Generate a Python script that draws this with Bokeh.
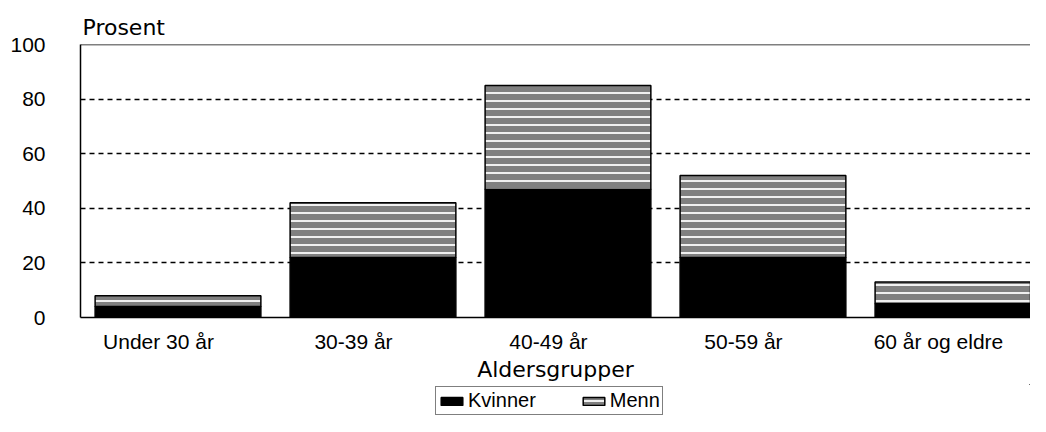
from bokeh.plotting import figure
from bokeh.layouts import column
from bokeh.models import (ColumnDataSource, Range1d, FixedTicker, Span,
                          Legend, LegendItem)
from bokeh.transform import stack
from bokeh.embed import file_html
from bokeh.resources import INLINE

categories = ["Under 30 år", "30-39 år", "40-49 år", "50-59 år", "60 år og eldre"]
kvinner = [4, 22, 47, 22, 5]
menn = [4, 20, 38, 30, 8]
y_ticks = [0, 20, 40, 60, 80, 100]
series_names = ["Kvinner", "Menn"]

xs = list(range(len(categories)))
src = ColumnDataSource(dict(x=xs, kvinner=kvinner, menn=menn))

black_style = dict(fill_color="black", line_color="black", line_width=1.5)
menn_style = dict(fill_color="#808080", line_color="black", line_width=1.5,
                  hatch_pattern="horizontal_line", hatch_color="#f0f0f0",
                  hatch_weight=2, hatch_scale=8)

p = figure(width=1030, height=384, output_backend="svg", toolbar_location=None,
           x_range=Range1d(-0.5, 4.372), y_range=Range1d(0, 100),
           min_border_left=80, min_border_right=0, min_border_top=44,
           min_border_bottom=63)
p.outline_line_color = None
p.background_fill_color = "white"
p.border_fill_color = "white"

p.vbar(x="x", width=0.85, bottom=0, top=stack("kvinner"), source=src, **black_style)
p.vbar(x="x", width=0.85, bottom=stack("kvinner"), top=stack("kvinner", "menn"),
       source=src, **menn_style)

p.add_layout(Span(location=100, dimension="width", line_color="black", line_width=1.5))

# title "Prosent"
p.title.text = "Prosent"
p.title.align = "left"
p.title.offset = 2
p.title.text_font = "DejaVu Sans"
p.title.text_font_size = "22px"
p.title.text_font_style = "normal"
p.title.text_color = "black"
p.title.standoff = 9

# axes
xa = p.xaxis[0]
shift = 0.1
ticks = [i - shift for i in xs]
xa.ticker = FixedTicker(ticks=ticks)
xa.major_label_overrides = {t: c for t, c in zip(ticks, categories)}
xa.major_tick_line_color = None
xa.minor_tick_line_color = None
xa.major_tick_out = 0
xa.major_tick_in = 0
xa.major_label_standoff = 12
xa.major_label_text_font = "Liberation Sans"
xa.major_label_text_font_size = "21px"
xa.major_label_text_color = "black"
xa.axis_line_color = "black"
xa.axis_line_width = 1.5
xa.axis_label = "Aldersgrupper"
xa.axis_label_text_font = "DejaVu Sans"
xa.axis_label_text_font_size = "22px"
xa.axis_label_text_font_style = "normal"
xa.axis_label_text_color = "black"
xa.axis_label_standoff = 1

ya = p.yaxis[0]
ya.ticker = FixedTicker(ticks=y_ticks)
ya.major_tick_line_color = None
ya.minor_tick_line_color = None
ya.major_tick_out = 0
ya.major_tick_in = 0
ya.major_label_standoff = 35
ya.major_label_text_font = "Liberation Sans"
ya.major_label_text_font_size = "21px"
ya.major_label_text_color = "black"
ya.axis_line_color = "black"
ya.axis_line_width = 1.5

p.xgrid.grid_line_color = None
p.ygrid.grid_line_color = "black"
p.ygrid.grid_line_width = 1.5
p.ygrid.grid_line_dash = "5 4"

# legend strip (its renderers sit outside the strip's visible range)
p2 = figure(width=1030, height=32, output_backend="svg", toolbar_location=None,
            x_range=Range1d(-1000, -999), y_range=Range1d(-1001, -1000),
            x_axis_type=None, y_axis_type=None, min_border=0)
p2.outline_line_color = None
p2.xgrid.grid_line_color = None
p2.ygrid.grid_line_color = None
l1 = p2.vbar(x="x", width=0.85, bottom=0, top=stack("kvinner"), source=src, **black_style)
l2 = p2.vbar(x="x", width=0.85, bottom=stack("kvinner"), top=stack("kvinner", "menn"),
             source=src, **menn_style)

legend = Legend(items=[LegendItem(label=series_names[0], renderers=[l1]),
                       LegendItem(label=series_names[1], renderers=[l2])],
                orientation="horizontal", location=(355, 1),
                glyph_width=27, glyph_height=10, label_standoff=3,
                spacing=44, padding=2, margin=0,
                label_text_font="Liberation Sans", label_text_font_size="20px",
                label_text_color="black", label_height=18,
                border_line_color="black", border_line_width=1.5,
                background_fill_color="white", background_fill_alpha=1.0)
p2.add_layout(legend, "center")

layout = column(p, p2, spacing=0)
open("out.html", "w").write(file_html(layout, INLINE))
